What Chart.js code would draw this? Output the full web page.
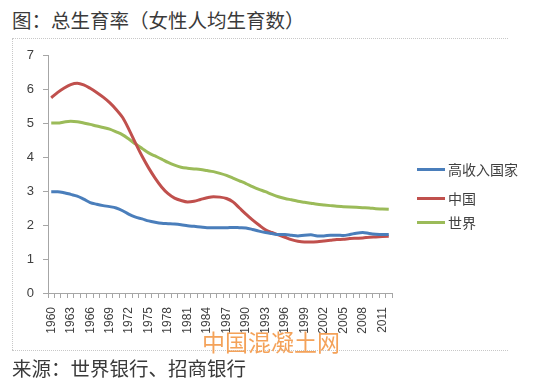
<!DOCTYPE html>
<html>
<head>
<meta charset="utf-8">
<script src="https://cdn.jsdelivr.net/npm/chart.js@4"></script>
<style>
  html, body { margin:0; padding:0; background:#fff; width:542px; height:383px; overflow:hidden; }
  #wrap { position:relative; width:542px; height:383px; }
  #c { position:absolute; left:0; top:0; }
  .title { position:absolute; left:12px; top:7px; font-family:"Noto Sans CJK SC", sans-serif; font-size:19.5px; line-height:26px; color:#3a3a3a; white-space:nowrap; }
  .source { position:absolute; left:12px; top:355px; font-family:"Noto Sans CJK SC", sans-serif; font-size:19.5px; line-height:26px; color:#3a3a3a; white-space:nowrap; }
  .hline { position:absolute; left:12px; width:496px; height:0; border-top:1px dotted #c8c8c8; }
  .vline { position:absolute; left:12px; top:39px; width:0; height:311px; border-left:1px dotted #c8c8c8; }
  .wm { position:absolute; left:202px; top:326px; font-family:"Noto Sans CJK SC", sans-serif; font-size:23px; line-height:30px; color:#f4a259; white-space:nowrap; }
  #legend { position:absolute; left:417px; top:160px; font-family:"Noto Sans CJK SC", sans-serif; font-size:14px; color:#404040; }
  #legend .item { position:absolute; left:0; height:18px; white-space:nowrap; }
  #legend .sw { position:absolute; left:0; top:8px; width:28px; height:3px; }
  #legend .tx { position:absolute; left:31px; top:-1px; line-height:20px; }
</style>
</head>
<body>
<div id="wrap">
  <div class="title">图：总生育率（女性人均生育数）</div>
  <div class="hline" style="top:38px"></div>
  <div class="vline"></div>
  <div class="hline" style="top:350px"></div>
  <canvas id="c" width="542" height="383"></canvas>
  <div id="legend"></div>
  <div class="wm">中国混凝土网</div>
  <div class="source">来源：世界银行、招商银行</div>
</div>
<script>
const years = [];
for (let y = 1960; y <= 2012; y++) years.push(String(y));

const seriesNames = ["高收入国家", "中国", "世界"];

const highIncome = [
  2.98, 2.98, 2.95, 2.90, 2.85, 2.76, 2.66, 2.61, 2.57, 2.54,
  2.50, 2.42, 2.31, 2.23, 2.18, 2.12, 2.08, 2.05, 2.04, 2.03,
  2.01, 1.98, 1.96, 1.94, 1.92, 1.92, 1.92, 1.92, 1.93, 1.92,
  1.91, 1.87, 1.82, 1.78, 1.75, 1.72, 1.72, 1.70, 1.68, 1.70,
  1.71, 1.68, 1.68, 1.70, 1.70, 1.69, 1.72, 1.76, 1.78, 1.75,
  1.73, 1.72, 1.72
];

const china = [
  5.74, 5.90, 6.03, 6.13, 6.17, 6.12, 6.02, 5.90, 5.76, 5.60,
  5.40, 5.16, 4.80, 4.40, 4.02, 3.68, 3.38, 3.12, 2.92, 2.79,
  2.72, 2.68, 2.70, 2.75, 2.80, 2.83, 2.82, 2.78, 2.68, 2.50,
  2.32, 2.15, 2.00, 1.86, 1.78, 1.71, 1.64, 1.57, 1.52, 1.50,
  1.50, 1.51, 1.53, 1.55, 1.57, 1.58, 1.60, 1.61, 1.62, 1.64,
  1.65, 1.66, 1.67
];

const world = [
  5.00, 5.00, 5.03, 5.05, 5.04, 5.00, 4.96, 4.91, 4.87, 4.82,
  4.74, 4.65, 4.52, 4.38, 4.25, 4.12, 4.03, 3.94, 3.84, 3.76,
  3.70, 3.67, 3.65, 3.63, 3.60, 3.57, 3.52, 3.46, 3.38, 3.30,
  3.22, 3.13, 3.05, 2.98, 2.90, 2.83, 2.78, 2.74, 2.70, 2.67,
  2.64, 2.61, 2.59, 2.57, 2.55, 2.54, 2.53, 2.52, 2.51, 2.50,
  2.48, 2.47, 2.46
];

const yTicks = [0, 1, 2, 3, 4, 5, 6, 7];
const colors = ["#4a7ebb", "#c0504d", "#9bbb59"];

const datasets = [highIncome, china, world].map((d, i) => ({
  label: seriesNames[i],
  data: d,
  borderColor: colors[i],
  backgroundColor: colors[i],
  borderWidth: 3,
  pointRadius: 0,
  tension: 0.4,
  cubicInterpolationMode: 'monotone',
  fill: false
}));

const axisColor = "#a6a6a6";

new Chart(document.getElementById('c'), {
  type: 'line',
  data: { labels: years, datasets },
  options: {
    responsive: false,
    animation: false,
    devicePixelRatio: 1,
    layout: { padding: { left: 12, top: 55, right: 150, bottom: 40 } },
    plugins: { legend: { display: false }, tooltip: { enabled: false } },
    scales: {
      x: {
        type: 'category',
        offset: true,
        grid: { display: true, drawOnChartArea: false, offset: true, tickLength: 5, color: axisColor },
        border: { color: axisColor, width: 1 },
        ticks: {
          autoSkip: false, maxRotation: 90, minRotation: 90, padding: 9,
          color: "#404040", font: { family: "Liberation Sans", size: 12 },
          callback: function(v, i) { return (i % 3 === 0) ? years[i] : ''; }
        },
        afterFit: s => { s.height = 50; }
      },
      y: {
        min: 0, max: 7,
        afterBuildTicks: s => { s.ticks = yTicks.map(v => ({ value: v })); },
        grid: { display: true, drawOnChartArea: false, tickLength: 5, color: axisColor },
        border: { color: axisColor, width: 1 },
        ticks: { padding: 9, color: "#404040", font: { family: "Liberation Sans", size: 13 } },
        afterFit: s => { s.width = 36; }
      }
    }
  }
});

const lg = document.getElementById('legend');
const legendTops = [0, 29, 53];
seriesNames.forEach((n, i) => {
  const it = document.createElement('div');
  it.className = 'item';
  it.style.top = legendTops[i] + 'px';
  it.innerHTML = '<span class="sw" style="background:' + colors[i] + '"></span><span class="tx">' + n + '</span>';
  lg.appendChild(it);
});
</script>
</body>
</html>
